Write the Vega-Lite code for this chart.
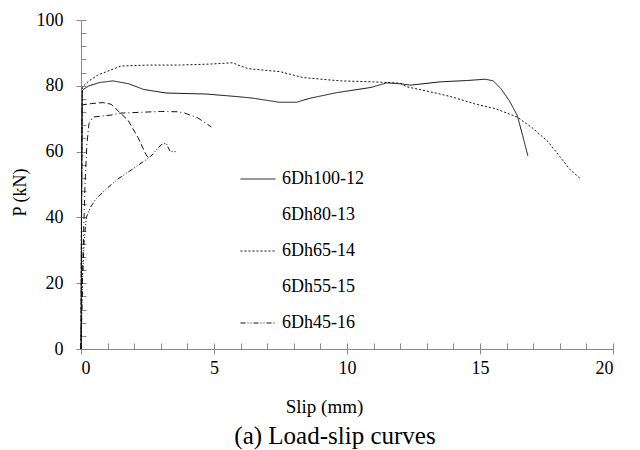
{
  "$schema": "https://vega.github.io/schema/vega-lite/v6.json",
  "width": 532,
  "height": 329,
  "autosize": {"type": "none"},
  "padding": {"left": 81, "top": 20, "right": 27, "bottom": 101},
  "background": "white",
  "config": {"font": "Liberation Serif", "view": {"stroke": null}},
  "title": {
    "text": "(a) Load-slip curves",
    "orient": "bottom",
    "anchor": "middle",
    "dx": -12,
    "offset": 8,
    "fontSize": 25,
    "fontWeight": "normal",
    "font": "Liberation Serif",
    "color": "black"
  },
  "data": {
    "values": [
      {"series": "6Dh100-12", "slip": 0, "load": 0},
      {"series": "6Dh100-12", "slip": 0.02, "load": 40},
      {"series": "6Dh100-12", "slip": 0.05, "load": 78.7},
      {"series": "6Dh100-12", "slip": 0.3, "load": 80},
      {"series": "6Dh100-12", "slip": 0.7, "load": 81},
      {"series": "6Dh100-12", "slip": 1.2, "load": 81.5},
      {"series": "6Dh100-12", "slip": 1.8, "load": 80.6},
      {"series": "6Dh100-12", "slip": 2.35, "load": 78.9},
      {"series": "6Dh100-12", "slip": 3.2, "load": 77.8},
      {"series": "6Dh100-12", "slip": 4.7, "load": 77.5},
      {"series": "6Dh100-12", "slip": 5.9, "load": 76.7},
      {"series": "6Dh100-12", "slip": 6.5, "load": 76.2},
      {"series": "6Dh100-12", "slip": 7.45, "load": 75},
      {"series": "6Dh100-12", "slip": 8.1, "load": 75},
      {"series": "6Dh100-12", "slip": 8.6, "load": 76.2},
      {"series": "6Dh100-12", "slip": 9.6, "load": 77.9},
      {"series": "6Dh100-12", "slip": 10.9, "load": 79.5},
      {"series": "6Dh100-12", "slip": 11.5, "load": 80.9},
      {"series": "6Dh100-12", "slip": 12.0, "load": 80.6},
      {"series": "6Dh100-12", "slip": 12.4, "load": 80.2},
      {"series": "6Dh100-12", "slip": 13.5, "load": 81.2},
      {"series": "6Dh100-12", "slip": 14.5, "load": 81.6},
      {"series": "6Dh100-12", "slip": 15.2, "load": 82},
      {"series": "6Dh100-12", "slip": 15.5, "load": 81.5},
      {"series": "6Dh100-12", "slip": 15.8, "load": 79},
      {"series": "6Dh100-12", "slip": 16.1, "load": 75.5},
      {"series": "6Dh100-12", "slip": 16.4, "load": 71},
      {"series": "6Dh100-12", "slip": 16.6, "load": 65},
      {"series": "6Dh100-12", "slip": 16.8, "load": 58.7},

      {"series": "6Dh80-13", "slip": 0, "load": 0},
      {"series": "6Dh80-13", "slip": 0.02, "load": 40},
      {"series": "6Dh80-13", "slip": 0.04, "load": 74.2},
      {"series": "6Dh80-13", "slip": 0.4, "load": 74.6},
      {"series": "6Dh80-13", "slip": 0.83, "load": 74.9},
      {"series": "6Dh80-13", "slip": 1.13, "load": 74.4},
      {"series": "6Dh80-13", "slip": 1.3, "load": 73.1},
      {"series": "6Dh80-13", "slip": 1.77, "load": 69.5},
      {"series": "6Dh80-13", "slip": 2.14, "load": 64.3},
      {"series": "6Dh80-13", "slip": 2.45, "load": 59},
      {"series": "6Dh80-13", "slip": 2.6, "load": 57.5},

      {"series": "6Dh65-14", "slip": 0, "load": 0},
      {"series": "6Dh65-14", "slip": 0.02, "load": 50},
      {"series": "6Dh65-14", "slip": 0.05, "load": 79.6},
      {"series": "6Dh65-14", "slip": 0.3, "load": 81.5},
      {"series": "6Dh65-14", "slip": 0.64, "load": 83.3},
      {"series": "6Dh65-14", "slip": 1.5, "load": 86},
      {"series": "6Dh65-14", "slip": 2.5, "load": 86.3},
      {"series": "6Dh65-14", "slip": 3.7, "load": 86.3},
      {"series": "6Dh65-14", "slip": 4.85, "load": 86.6},
      {"series": "6Dh65-14", "slip": 5.7, "load": 87},
      {"series": "6Dh65-14", "slip": 6.0, "load": 86},
      {"series": "6Dh65-14", "slip": 6.3, "load": 85.2},
      {"series": "6Dh65-14", "slip": 7.48, "load": 84.3},
      {"series": "6Dh65-14", "slip": 8.35, "load": 82.5},
      {"series": "6Dh65-14", "slip": 9.74, "load": 81.5},
      {"series": "6Dh65-14", "slip": 11.0, "load": 81.2},
      {"series": "6Dh65-14", "slip": 12.0, "load": 80.8},
      {"series": "6Dh65-14", "slip": 12.25, "load": 79.7},
      {"series": "6Dh65-14", "slip": 13.4, "load": 77.7},
      {"series": "6Dh65-14", "slip": 14.0, "load": 76.5},
      {"series": "6Dh65-14", "slip": 14.8, "load": 74.5},
      {"series": "6Dh65-14", "slip": 15.6, "load": 73},
      {"series": "6Dh65-14", "slip": 16.4, "load": 70.5},
      {"series": "6Dh65-14", "slip": 17.0, "load": 67},
      {"series": "6Dh65-14", "slip": 17.56, "load": 63},
      {"series": "6Dh65-14", "slip": 18.0, "load": 58.5},
      {"series": "6Dh65-14", "slip": 18.4, "load": 54.4},
      {"series": "6Dh65-14", "slip": 18.76, "load": 51.9},

      {"series": "6Dh55-15", "slip": 0, "load": 0},
      {"series": "6Dh55-15", "slip": 0.08, "load": 30},
      {"series": "6Dh55-15", "slip": 0.15, "load": 50},
      {"series": "6Dh55-15", "slip": 0.22, "load": 62},
      {"series": "6Dh55-15", "slip": 0.3, "load": 68.5},
      {"series": "6Dh55-15", "slip": 0.45, "load": 70.5},
      {"series": "6Dh55-15", "slip": 1.13, "load": 71.1},
      {"series": "6Dh55-15", "slip": 1.5, "load": 71.7},
      {"series": "6Dh55-15", "slip": 3.0, "load": 72.2},
      {"series": "6Dh55-15", "slip": 3.65, "load": 72.1},
      {"series": "6Dh55-15", "slip": 3.9, "load": 71.7},
      {"series": "6Dh55-15", "slip": 4.4, "load": 70.2},
      {"series": "6Dh55-15", "slip": 4.9, "load": 67.5},

      {"series": "6Dh45-16", "slip": 0, "load": 0},
      {"series": "6Dh45-16", "slip": 0.05, "load": 20},
      {"series": "6Dh45-16", "slip": 0.12, "load": 33},
      {"series": "6Dh45-16", "slip": 0.2, "load": 40},
      {"series": "6Dh45-16", "slip": 0.35, "load": 43},
      {"series": "6Dh45-16", "slip": 0.55, "load": 45.5},
      {"series": "6Dh45-16", "slip": 0.71, "load": 46.8},
      {"series": "6Dh45-16", "slip": 1.0, "load": 49},
      {"series": "6Dh45-16", "slip": 1.39, "load": 51.7},
      {"series": "6Dh45-16", "slip": 2.07, "load": 55.4},
      {"series": "6Dh45-16", "slip": 2.6, "load": 58.4},
      {"series": "6Dh45-16", "slip": 3.0, "load": 62},
      {"series": "6Dh45-16", "slip": 3.2, "load": 62.6},
      {"series": "6Dh45-16", "slip": 3.35, "load": 60},
      {"series": "6Dh45-16", "slip": 3.57, "load": 60}
    ]
  },
  "layer": [
    {
      "mark": {"type": "line", "color": "#111", "strokeWidth": 1},
      "encoding": {
        "x": {
          "field": "slip",
          "type": "quantitative",
          "scale": {"domain": [0, 20], "nice": false, "zero": false},
          "axis": {
            "orient": "bottom",
            "values": [0, 5, 10, 15, 20],
            "tickSize": 5,
            "labelPadding": 5,
            "labelFontSize": 18,
            "labelColor": "black",
            "labelFont": "Liberation Serif",
            "domainColor": "#888",
            "tickColor": "#888",
            "grid": false,
            "title": "Slip (mm)",
            "titleFontSize": 19,
            "titleFontWeight": "normal",
            "titleColor": "black",
            "titleFont": "Liberation Serif",
            "titleX": 243,
            "titleY": 57,
            "titleAlign": "center",
            "titleBaseline": "middle"
          }
        },
        "y": {
          "field": "load",
          "type": "quantitative",
          "scale": {"domain": [0, 100], "nice": false},
          "axis": {
            "orient": "left",
            "values": [0, 20, 40, 60, 80, 100],
            "tickSize": 5,
            "labelPadding": 13,
            "labelFontSize": 18,
            "labelColor": "black",
            "labelFont": "Liberation Serif",
            "domainColor": "#888",
            "tickColor": "#888",
            "grid": false,
            "title": "P (kN)",
            "titleFontSize": 18,
            "titleFontWeight": "normal",
            "titleColor": "black",
            "titleFont": "Liberation Serif",
            "titleX": -61,
            "titleY": 172,
            "titleAngle": 270,
            "titleAlign": "center",
            "titleBaseline": "middle"
          }
        },
        "detail": {"field": "series"},
        "strokeDash": {
          "field": "series",
          "type": "nominal",
          "scale": {
            "domain": ["6Dh100-12", "6Dh80-13", "6Dh65-14", "6Dh55-15", "6Dh45-16"],
            "range": [[1, 0], [6, 3], [2, 2], [6, 3, 1, 3], [5, 2, 1, 2, 1, 2]]
          },
          "legend": {
            "orient": "none",
            "legendX": 159,
            "legendY": 141,
            "title": null,
            "padding": 0,
            "symbolType": "stroke",
            "symbolSize": 1225,
            "symbolStrokeWidth": 1,
            "symbolStrokeColor": "#111",
            "labelFontSize": 18,
            "labelFont": "Liberation Serif",
            "labelColor": "black",
            "labelOffset": 6,
            "rowPadding": 9,
            "encode": {
              "symbols": {
                "update": {
                  "opacity": [
                    {"test": "datum.value === '6Dh80-13' || datum.value === '6Dh55-15'", "value": 0},
                    {"value": 1}
                  ]
                }
              }
            }
          }
        }
      }
    },
    {
      "mark": {"type": "point", "opacity": 0},
      "encoding": {
        "x": {
          "field": "slip",
          "type": "quantitative",
          "scale": {"domain": [0, 20], "nice": false, "zero": false},
          "axis": {
            "orient": "bottom",
            "values": [0, 1, 2, 3, 4, 5, 6, 7, 8, 9, 10, 11, 12, 13, 14, 15, 16, 17, 18, 19, 20],
            "tickSize": -6,
            "labels": false,
            "domain": false,
            "tickColor": "#888",
            "grid": false,
            "title": null
          }
        },
        "y": {
          "field": "load",
          "type": "quantitative",
          "scale": {"domain": [0, 100], "nice": false},
          "axis": {
            "orient": "left",
            "values": [0, 4, 8, 12, 16, 20, 24, 28, 32, 36, 40, 44, 48, 52, 56, 60, 64, 68, 72, 76, 80, 84, 88, 92, 96, 100],
            "tickSize": -5,
            "labels": false,
            "domain": false,
            "tickColor": "#888",
            "grid": false,
            "title": null
          }
        }
      }
    }
  ],
  "resolve": {"axis": {"x": "independent", "y": "independent"}}
}
